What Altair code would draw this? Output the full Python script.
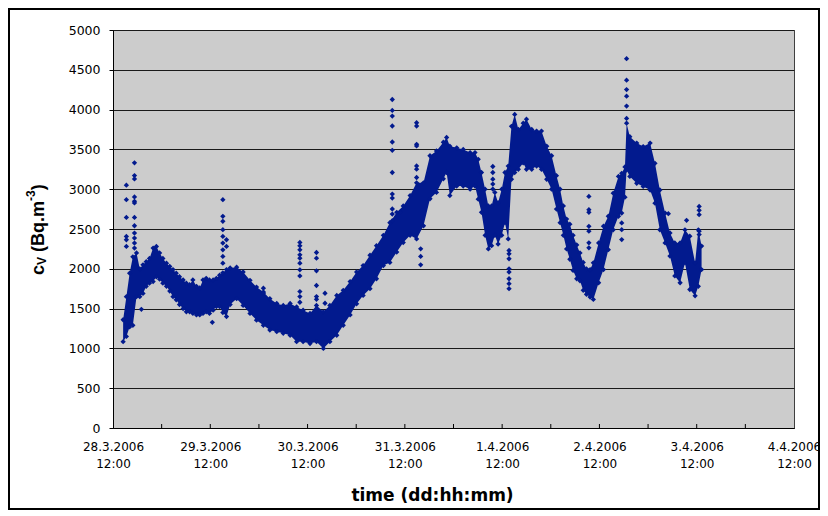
import altair as alt
import pandas as pd

# ---- data (hours after 28.3.2006 12:00, Bq.m-3) ----
hours = [2.5, 3.3, 4.1, 4.9, 5.8, 6.6, 7.4, 8.2, 9.0, 9.9,
         10.7, 11.5, 12.3, 13.2, 14.0, 14.8, 15.6, 16.4, 17.3, 18.1,
         18.9, 19.7, 20.6, 21.4, 22.2, 23.0, 23.8, 24.7, 25.5, 26.3,
         27.1, 28.0, 28.9, 30.5, 32.1, 33.8, 35.4, 37.1, 38.7, 40.4,
         42.0, 43.7, 45.3, 46.9, 48.6, 50.2, 51.9, 53.5, 55.2, 56.8,
         58.5, 60.1, 61.7, 63.4, 65.0, 66.7, 68.3, 70.0, 71.6, 73.3,
         74.9, 76.6, 78.2, 79.8, 81.5, 82.3, 83.1, 84.8, 86.4, 88.1,
         89.3, 90.1, 90.9, 91.8, 92.6, 93.4, 94.2, 95.0, 95.9, 96.7,
         97.5, 98.3, 99.1, 100.0, 101.2, 102.0, 103.3, 104.5, 105.7, 107.0,
         108.2, 109.4, 110.3, 111.1, 111.9, 112.7, 113.5, 114.4, 115.2, 116.0,
         116.8, 117.7, 118.5, 119.8, 121.0, 122.2, 123.4, 124.7, 125.5, 126.3,
         126.7, 127.5, 129.2, 130.8, 132.5, 133.7, 134.9, 136.2, 137.4, 138.6,
         139.9, 141.1, 142.3, 143.6, 144.4, 145.2]

band_low = [1085, 1150, 1270, 1290, 1650, 1650, 1690, 1780, 1820, 1840,
            1900, 1870, 1820, 1780, 1720, 1650, 1610, 1550, 1500, 1460,
            1460, 1440, 1420, 1420, 1440, 1460, 1440, 1480, 1525, 1525,
            1450, 1400, 1550, 1625, 1540, 1440, 1355, 1290, 1230, 1210,
            1190, 1165, 1085, 1085, 1060, 1085, 1000, 1085, 1165, 1290,
            1420, 1560, 1665, 1750, 1875, 2040, 2080, 2210, 2330, 2420,
            2375, 2540, 2880, 2960, 3130, 3210, 2920, 3040, 3040, 3000,
            3040, 2875, 2710, 2420, 2250, 2290, 2420, 2310, 2420, 2580,
            2375, 3125, 3210, 3250, 3330, 3250, 3250, 3290, 3250, 3125,
            3000, 2750, 2580, 2420, 2250, 2120, 1980, 1875, 1850, 1730,
            1680, 1645, 1615, 1825, 1990, 2240, 2490, 2660, 2700, 2900,
            3240, 3160, 3075, 3035, 2990, 2825, 2490, 2325, 2160, 1910,
            1825, 2075, 1740, 1660, 1780, 1990]

band_high = [1360, 1650, 1945, 2150, 2200, 2000, 2050, 2090, 2130, 2260,
             2280, 2200, 2130, 2070, 2030, 1990, 1945, 1900, 1860, 1820,
             1800, 1860, 1780, 1760, 1860, 1880, 1860, 1860, 1880, 1920,
             1950, 1990, 2010, 2020, 1960, 1855, 1770, 1710, 1625, 1565,
             1540, 1565, 1520, 1480, 1440, 1540, 1460, 1540, 1665, 1730,
             1840, 1960, 2040, 2170, 2290, 2420, 2580, 2710, 2790, 2920,
             3080, 3080, 3420, 3480, 3590, 3650, 3540, 3520, 3500, 3460,
             3460, 3375, 3210, 3000, 2790, 2790, 2960, 2830, 3000, 3210,
             3290, 3790, 3940, 3750, 3830, 3880, 3750, 3730, 3730, 3540,
             3420, 3170, 3000, 2790, 2625, 2560, 2420, 2300, 2200, 2080,
             2000, 1990, 2075, 2325, 2535, 2660, 2950, 3160, 3200, 3280,
             3830, 3660, 3580, 3535, 3580, 3325, 2990, 2700, 2450, 2325,
             2325, 2490, 2410, 2075, 2490, 2285]

spike_hours = [3.3, 5.3, 7.0, 24.5, 27.1, 28.0, 37.1, 46.1, 50.2, 52.3,
               68.9, 70.8, 74.9, 75.9, 93.7, 97.7, 117.4, 125.5, 126.7,
               137.0, 141.5, 144.6]
spike_values = [
    [3050, 2869, 2646, 2407, 2365, 2281],
    [3331, 3171, 3129, 2903, 2848, 2827, 2646, 2541, 2449, 2386, 2323, 2260],
    [1491],
    [1328],
    [2869, 2659, 2596, 2491, 2407, 2323, 2239, 2155, 2071],
    [2365, 2281],
    [1756, 1693],
    [2331, 2289, 2239, 2176, 2134, 2071, 1987, 1911, 1714, 1651, 1580],
    [2205, 2134, 1974, 1790, 1651, 1617],
    [1693, 1567],
    [4127, 3990, 3919, 3794, 3593, 3489, 3210, 2939, 2889, 2751, 2688, 2605],
    [2709],
    [3835, 3794, 3564, 3543, 3293, 3251, 3147],
    [2251, 2155, 2050],
    [3285, 3210, 3126, 3064, 3001],
    [2230, 2188, 2126, 2000, 1959, 1875, 1813, 1750],
    [2909, 2743, 2709, 2534, 2472, 2326, 2263],
    [2576, 2492, 2367],
    [4640, 4369, 4252, 4169, 4044, 3889],
    [2693],
    [2609],
    [2784, 2734, 2680, 2472, 2430],
]

day_labels = ["28.3.2006", "29.3.2006", "30.3.2006", "31.3.2006",
              "1.4.2006", "2.4.2006", "3.4.2006", "4.4.2006"]
time_label = "12:00"
day_ticks = [0, 24, 48, 72, 96, 120, 144, 168]
half_day_ticks = [12, 24, 36, 48, 60, 72, 84, 96, 108, 120, 132, 144, 156]
y_ticks = [0, 500, 1000, 1500, 2000, 2500, 3000, 3500, 4000, 4500, 5000]

# ---- tables ----
band = pd.DataFrame({"h": hours, "lo": band_low, "hi": band_high})
edges = pd.DataFrame({"h": hours + hours, "v": band_low + band_high})
sp_rows = [(h, v) for h, vals in zip(spike_hours, spike_values) for v in vals]
spikes = pd.DataFrame(sp_rows, columns=["h", "v"])
points = pd.concat([edges, spikes], ignore_index=True)
ticks = pd.DataFrame({"h": half_day_ticks})
one = pd.DataFrame({"a": [0]})

NAVY = "#021A8E"
W, H = 681, 398
xs = alt.Scale(domain=[0, 168], nice=False, zero=False)
ys = alt.Scale(domain=[0, 5000], nice=False)

labels_js = "[" + ",".join("'" + d + "'" for d in day_labels) + "]"
label_expr = "[" + labels_js + "[round(datum.value/24)], '" + time_label + "']"

x_axis = alt.Axis(values=day_ticks, labelExpr=label_expr, ticks=False, tickSize=0,
                  grid=False, domainColor="#000000", domainWidth=1,
                  labelFont="DejaVu Sans", labelFontSize=12, labelColor="#000000",
                  labelPadding=13, labelLineHeight=17, labelBaseline="top",
                  labelFlush=False, labelOverlap=False,
                  title="time (dd:hh:mm)", titleFont="DejaVu Sans",
                  titleFontSize=17, titleFontWeight="bold", titleColor="#000000",
                  titleX=319, titleY=72, titleBaseline="alphabetic",
                  titleAlign="center", titleAnchor="start")
y_axis = alt.Axis(values=y_ticks, format="d", grid=True, gridColor="#1a1a1a",
                  gridWidth=1, tickSize=4, tickColor="#000000", domainColor="#000000",
                  labelFont="DejaVu Sans", labelFontSize=12.5, labelColor="#000000",
                  labelPadding=9, title=None, labelOverlap=False)

area = alt.Chart(band).mark_area(color=NAVY, opacity=1).encode(
    x=alt.X("h:Q", scale=xs, axis=x_axis),
    y=alt.Y("lo:Q", scale=ys, axis=y_axis),
    y2="hi:Q",
)

dots = alt.Chart(points).mark_point(shape="diamond", filled=True, size=28,
                                    color=NAVY, opacity=1).encode(
    x=alt.X("h:Q", scale=xs, axis=x_axis),
    y=alt.Y("v:Q", scale=ys, axis=y_axis),
)

tick_marks = alt.Chart(ticks).mark_rule(color="#000000", strokeWidth=1).encode(
    x=alt.X("h:Q", scale=xs, axis=x_axis),
    y=alt.value(H),
    y2=alt.value(H - 4),
)

def piece(txt, size, x, y):
    return alt.Chart(one).mark_text(
        text=txt, angle=270, align="left", baseline="alphabetic",
        font="Liberation Sans", fontSize=size, fontWeight="bold", color="#000000",
    ).encode(x=alt.value(x), y=alt.value(y))

ytitle = [
    piece("c", 18, -69, 245),
    piece("V", 12, -67, 235),
    piece("(Bq.m", 18, -69, 222),
    piece("-3", 12, -78, 171),
    piece(")", 18, -69, 160.3),
]

border = alt.Chart(one).mark_rect(fill=None, stroke="#000000", strokeWidth=2).encode(
    x=alt.value(-104), x2=alt.value(706), y=alt.value(-21), y2=alt.value(479),
)

chart = alt.layer(area, dots, tick_marks, *ytitle, border).properties(
    width=W, height=H,
    autosize=alt.AutoSizeParams(type="none"),
    padding={"left": 105, "top": 22, "right": 26, "bottom": 82},
).configure_view(fill="#CCCCCC", stroke="#404040", strokeWidth=1)

chart.save("out.html", embed_options={"renderer": "svg", "actions": False})
